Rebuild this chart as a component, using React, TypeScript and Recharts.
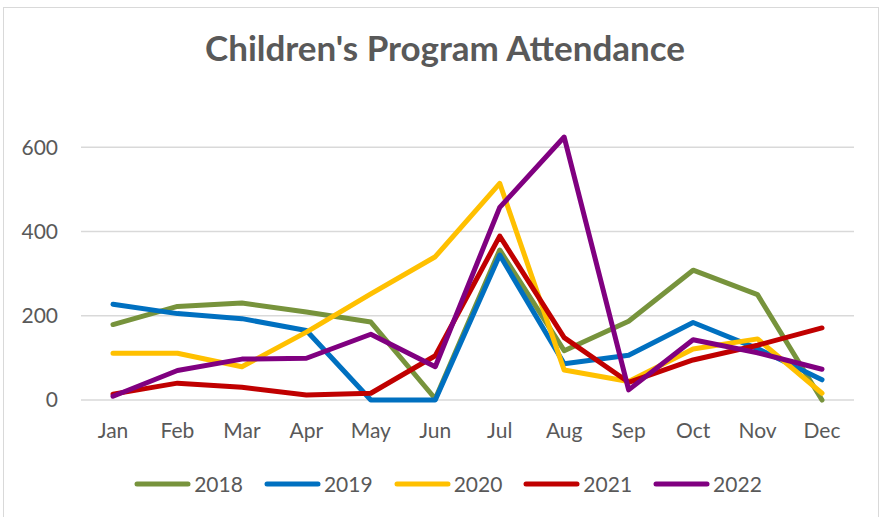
import React from 'react';
import { LineChart, Line, XAxis, YAxis, CartesianGrid, Legend } from 'recharts';

const months = ['Jan', 'Feb', 'Mar', 'Apr', 'May', 'Jun', 'Jul', 'Aug', 'Sep', 'Oct', 'Nov', 'Dec'];
const y2018 = [179, 222, 230, 209, 185, 3, 356, 117, 187, 308, 250, 0];
const y2019 = [227, 205, 193, 165, 0, 0, 344, 86, 106, 184, 122, 48];
const y2020 = [111, 111, 79, 161, 252, 340, 514, 71, 44, 121, 145, 16];
const y2021 = [14, 40, 30, 12, 16, 105, 389, 148, 42, 95, 130, 171];
const y2022 = [9, 70, 97, 99, 156, 79, 457, 624, 24, 143, 112, 73];
const yTicks = [0, 200, 400, 600];
const yMax = 700;

const series = [
  { key: '2018', values: y2018, color: '#77933C' },
  { key: '2019', values: y2019, color: '#0070C0' },
  { key: '2020', values: y2020, color: '#FFC000' },
  { key: '2021', values: y2021, color: '#C00000' },
  { key: '2022', values: y2022, color: '#800080' },
];

const data = months.map((m, i) => {
  const row: any = { month: m };
  series.forEach((s) => {
    row[s.key] = s.values[i];
  });
  return row;
});

const FONT = 'Lato, "Open Sans", sans-serif';
const TEXT = '#595959';

const LegendContent = () => (
  <div style={{ display: 'flex', justifyContent: 'center', gap: 21, paddingLeft: 42, fontFamily: FONT, fontSize: 21, color: TEXT }}>
    {series.map((s) => (
      <div key={s.key} style={{ display: 'flex', alignItems: 'center' }}>
        <svg width={57} height={10}>
          <line x1={3} y1={5} x2={54} y2={5} stroke={s.color} strokeWidth={5} strokeLinecap="round" />
        </svg>
        <span style={{ marginLeft: 3 }}>{s.key}</span>
      </div>
    ))}
  </div>
);

// grid only at the labelled ticks, not at the top of the domain
const gridLines = ({ offset }: any) =>
  yTicks.map((v) => offset.top + offset.height * (1 - v / yMax));

export default function App() {
  return (
    <div style={{ position: 'absolute', left: 0, top: 0, width: 882, height: 517, background: '#fff', overflow: 'hidden' }}>
      <div style={{ position: 'absolute', left: 3, top: 7, width: 876, height: 530, border: '1px solid #d9d9d9', boxSizing: 'border-box' }} />
      <div
        style={{
          position: 'absolute',
          left: 0,
          top: 26,
          width: 890,
          textAlign: 'center',
          fontFamily: FONT,
          fontWeight: 700,
          fontSize: 35,
          color: TEXT,
        }}
      >
        Children's Program Attendance
      </div>
      <LineChart width={882} height={517} data={data} margin={{ top: 105, right: 28, left: 0, bottom: 0 }}>
        <CartesianGrid vertical={false} stroke="#d9d9d9" strokeWidth={1.5} horizontalCoordinatesGenerator={gridLines} />
        <XAxis
          dataKey="month"
          axisLine={false}
          tickLine={false}
          tickMargin={17}
          height={92}
          padding={{ left: 32, right: 32 }}
          tick={{ fontSize: 21, fill: TEXT, fontFamily: FONT }}
          interval={0}
        />
        <YAxis
          width={81}
          domain={[0, yMax]}
          ticks={yTicks}
          axisLine={false}
          tickLine={false}
          tickMargin={17}
          tick={{ fontSize: 21, fill: TEXT, fontFamily: FONT }}
        />
        <Legend verticalAlign="bottom" wrapperStyle={{ bottom: 21 }} content={LegendContent} />
        {series.map((s) => (
          <Line
            key={s.key}
            type="linear"
            dataKey={s.key}
            stroke={s.color}
            strokeWidth={5}
            strokeLinecap="round"
            strokeLinejoin="round"
            dot={false}
            activeDot={false}
            isAnimationActive={false}
          />
        ))}
      </LineChart>
    </div>
  );
}
